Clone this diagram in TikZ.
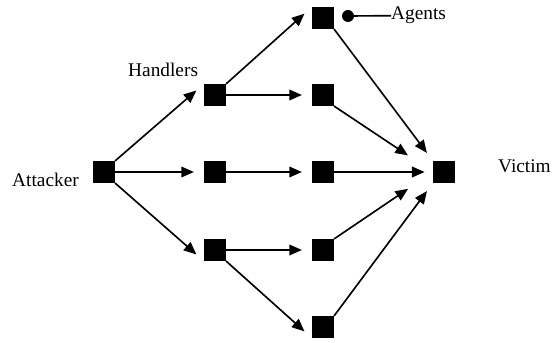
\documentclass[tikz,border=0pt]{standalone}
\usepackage{fontspec}
\setmainfont{Liberation Serif}
\usetikzlibrary{arrows.meta, positioning}

\begin{document}
\begin{tikzpicture}[
        x=0.03cm, y=-0.03cm,
        host/.style={fill=black, minimum size=0.65cm, inner sep=0pt},
        dot/.style={circle, fill=black, minimum size=0.36cm, inner sep=0pt},
        lbl/.style={inner sep=0pt, font=\fontsize{16.5}{20}\selectfont},
        arrow/.style={-{Triangle[length=0.38cm, width=0.32cm]}, line width=1.4pt, shorten >=0.3cm},
        link/.style={line width=1.4pt}
      ]
        \useasboundingbox (0,0) rectangle (556,343);

        % Attacker and victim
        \node[host] (att) at (104,172) {};
        \node[host] (vic) at (444,172) {};

        % Handlers
        \foreach \i/\y in {1/95, 2/172, 3/250} {
            \node[host] (h\i) at (215,\y) {};
        }

        % Agents
        \foreach \i/\y in {1/18, 2/95, 3/172, 4/250, 5/327} {
            \node[host] (a\i) at (323,\y) {};
        }

        % Labels
        \node[lbl, anchor=base west] (attacker) at (12,187) {Attacker};
        \node[lbl, anchor=base west] (handlers) at (128,77) {Handlers};
        \node[lbl, anchor=base west] (victim) at (498,173) {Victim};
        \node[dot] (dot) at (348,16) {};
        \node[lbl, anchor=base west] (agents) at (391,20) {Agents};
        \draw[link] (dot) -- (agents.west);

        % Attacker to handlers
        \draw[arrow] (att.north east) -- (h1.north west);
        \draw[arrow] (att) -- (h2);
        \draw[arrow] (att.south east) -- (h3.south west);

        % Handlers to agents
        \draw[arrow] (h1.north east) -- (a1.north west);
        \draw[arrow] (h1) -- (a2);
        \draw[arrow] (h2) -- (a3);
        \draw[arrow] (h3) -- (a4);
        \draw[arrow] (h3.south east) -- (a5.south west);

        % Agents to victim
        \draw[arrow] (a1.south east) -- (vic.north west);
        \draw[arrow, shorten >=0.9cm] (a2.south east) -- (vic.west);
        \draw[arrow, shorten >=0.25cm] (a3) -- (vic);
        \draw[arrow, shorten >=0.9cm] (a4.north east) -- (vic.west);
        \draw[arrow] (a5.north east) -- (vic.south west);
\end{tikzpicture}
\end{document}
